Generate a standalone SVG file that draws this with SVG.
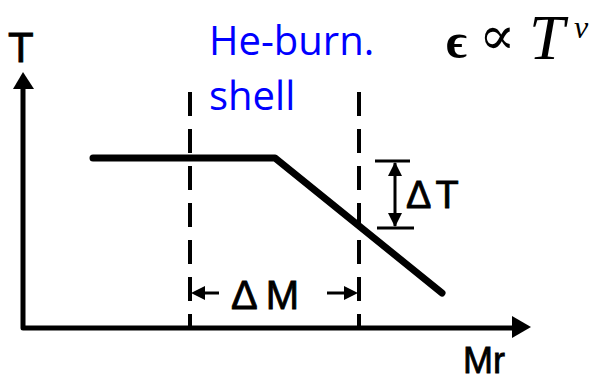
<svg xmlns="http://www.w3.org/2000/svg" width="598" height="381" viewBox="0 0 598 381">
<style>
.ax{stroke:#000;stroke-width:5;fill:none;stroke-linecap:round;stroke-linejoin:round}
.dash{stroke:#000;stroke-width:4;fill:none;stroke-dasharray:24 13}
.prof{stroke:#000;stroke-width:7;fill:none;stroke-linecap:round;stroke-linejoin:round}
.thin{stroke:#000;stroke-width:3;fill:none}
.lbl{font-family:"Liberation Sans",Arial,sans-serif;fill:#000;stroke:#000;stroke-width:0.8}
.blue{font-family:"Open Sans","Liberation Sans",sans-serif;font-size:40px;fill:#0000FF}
</style>
<rect width="598" height="381" fill="#fff"/>
<g id="connectors">
  <path class="ax" d="M23,88 L23,328 L514,328"/>
  <polygon points="23,72 13,89 34,89" fill="#000"/>
  <polygon points="531,327 512,316 512,338" fill="#000"/>
  <line class="dash" x1="190" y1="92" x2="190" y2="328"/>
  <line class="dash" x1="359" y1="92" x2="359" y2="328"/>
  <path class="prof" d="M93,158 L275,158 L442,293"/>
  <line class="thin" x1="395" y1="163" x2="395" y2="226"/>
  <line class="thin" x1="375" y1="161" x2="410" y2="161"/>
  <line class="thin" x1="377" y1="228" x2="414" y2="228"/>
  <polygon points="395,162 388,176 402,176" fill="#000"/>
  <polygon points="395,227 388,213 402,213" fill="#000"/>
  <line class="thin" x1="196" y1="293" x2="219" y2="293"/>
  <polygon points="191,293 205,286 205,300" fill="#000"/>
  <line class="thin" x1="327" y1="293" x2="352" y2="293"/>
  <polygon points="358,293 344,286 344,300" fill="#000"/>
</g>
<g id="axisT"><text class="lbl" x="8" y="62" font-size="42">T</text></g>
<g id="axisMr"><text class="lbl" x="463" y="373" font-size="36">Mr</text></g>
<g id="dT"><text class="lbl" x="406" y="208" font-size="38" letter-spacing="4">ΔT</text></g>
<g id="dM"><text class="lbl" x="231" y="309" font-size="40" letter-spacing="8">ΔM</text></g>
<g id="shell">
  <text class="blue" x="209" y="55">He-burn.</text>
  <text class="blue" x="209" y="110">shell</text>
</g>
<g id="formula">
  <text x="446" y="58" font-family="'Liberation Serif',serif" font-size="50" font-weight="bold">ϵ</text>
  <text x="479" y="54" font-family="'DejaVu Serif',serif" font-size="54">∝</text>
  <text x="529" y="59" font-family="'Liberation Serif',serif" font-size="64" font-style="italic">T</text>
  <text x="574" y="38" font-family="'Liberation Serif',serif" font-size="32" font-style="italic">ν</text>
</g>
</svg>
